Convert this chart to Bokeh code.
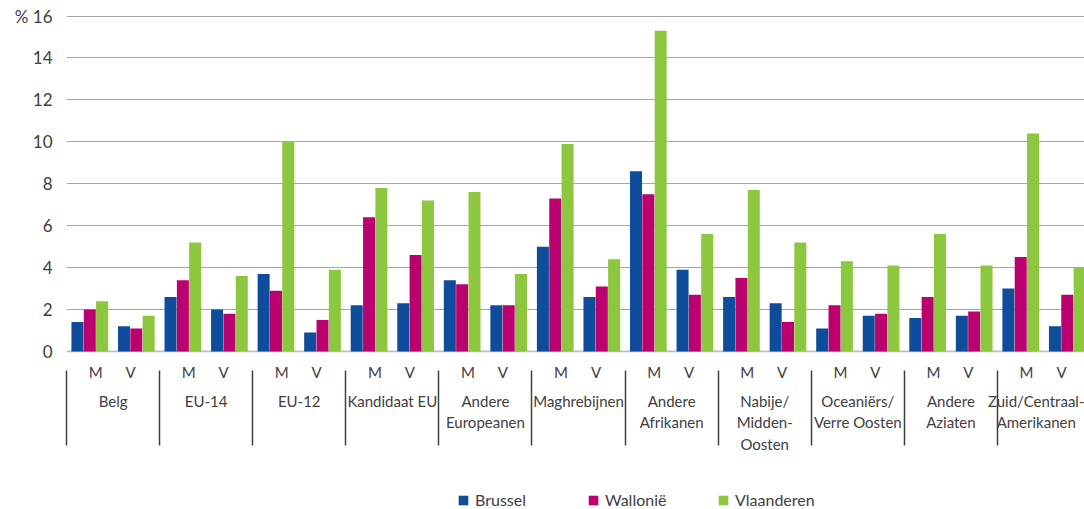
from bokeh.plotting import figure
from bokeh.layouts import column
from bokeh.models import Range1d, FixedTicker, LinearAxis, Legend, LegendItem, Span
from bokeh.embed import file_html
from bokeh.resources import INLINE

# ---------------- data ----------------
categories = ["Belg", "EU-14", "EU-12", "Kandidaat EU", "Andere\nEuropeanen",
              "Maghrebijnen", "Andere\nAfrikanen", "Nabije/\nMidden-\nOosten",
              "Oceaniërs/\nVerre Oosten", "Andere\nAziaten", "Zuid/Centraal-\nAmerikanen"]
subgroups = ["M", "V"]
series_names = ["Brussel", "Wallonië", "Vlaanderen"]

# values per (category, subgroup): M, V, M, V, ...
brussel = [1.4, 1.2, 2.6, 2.0, 3.7, 0.9, 2.2, 2.3, 3.4, 2.2, 5.0, 2.6,
           8.6, 3.9, 2.6, 2.3, 1.1, 1.7, 1.6, 1.7, 3.0, 1.2]
wallonie = [2.0, 1.1, 3.4, 1.8, 2.9, 1.5, 6.4, 4.6, 3.2, 2.2, 7.3, 3.1,
            7.5, 2.7, 3.5, 1.4, 2.2, 1.8, 2.6, 1.9, 4.5, 2.7]
vlaanderen = [2.4, 1.7, 5.2, 3.6, 10.0, 3.9, 7.8, 7.2, 7.6, 3.7, 9.9, 4.4,
              15.3, 5.6, 7.7, 5.2, 4.3, 4.1, 5.6, 4.1, 10.4, 4.0]
y_ticks = [0, 2, 4, 6, 8, 10, 12, 14, 16]
y_unit_label = "% 16"

# ---------------- style ----------------
colors = ["#0F4C9B", "#BB0070", "#8DC63F"]
text_color = "#404040"
font = "Lato"
bar_width = 0.258
bar_pitch = 0.265

n_groups = len(categories)
n_sub = len(subgroups)
x_center = [i + 0.5 for i in range(n_groups * n_sub)]

p = figure(width=1084, height=455,
           x_range=Range1d(0, 21.87), y_range=Range1d(-0.05, 16.12),
           output_backend="svg", toolbar_location=None,
           min_border_left=66, min_border_right=0, min_border_top=13, min_border_bottom=103)
p.outline_line_color = None
p.background_fill_color = "white"
p.border_fill_color = "white"

# grid
p.xgrid.visible = False
p.ygrid.ticker = FixedTicker(ticks=[t for t in y_ticks if t > 0])
p.ygrid.grid_line_color = "#A6A6A6"
p.ygrid.grid_line_width = 1
base = Span(location=0, dimension="width", line_color="#BFBFBF", line_width=2, level="underlay")
p.add_layout(base)

# bars
for j, (vals, col) in enumerate(zip([brussel, wallonie, vlaanderen], colors)):
    off = (j - 1) * bar_pitch
    p.vbar(x=[xc + off for xc in x_center], top=vals, bottom=0, width=bar_width,
           fill_color=col, line_color=None)

# y axis
ya = p.yaxis[0]
ya.ticker = FixedTicker(ticks=y_ticks)
ya.major_label_overrides = {16: y_unit_label}
ya.axis_line_color = None
ya.major_tick_line_color = None
ya.minor_tick_line_color = None
ya.major_tick_out = 0
ya.major_tick_in = 0
ya.major_label_standoff = 14
ya.major_label_text_font = font
ya.major_label_text_font_size = "17px"
ya.major_label_text_color = text_color

# x axis 1: M / V
mv_ticks = []
mv_labels = {}
for g in range(n_groups):
    for s, lab in enumerate(subgroups):
        t = 2 * g + (0.625 if s == 0 else 1.375)
        mv_ticks.append(t)
        mv_labels[t] = lab
xa = p.xaxis[0]
xa.ticker = FixedTicker(ticks=mv_ticks)
xa.major_label_overrides = mv_labels
xa.axis_line_color = None
xa.major_tick_line_color = None
xa.minor_tick_line_color = None
xa.major_tick_out = 0
xa.major_tick_in = 0
xa.minor_tick_out = 0
xa.minor_tick_in = 0
xa.major_label_standoff = 10
xa.major_label_text_font = font
xa.major_label_text_font_size = "15px"
xa.major_label_text_color = text_color

# x axis 2: category names + separators
grp_ticks = [2 * g + 1 for g in range(n_groups)]
sep_ticks = [2 * g for g in range(n_groups + 1)]
xa2 = LinearAxis(ticker=FixedTicker(ticks=grp_ticks, minor_ticks=sep_ticks),
                 major_label_overrides={t: c for t, c in zip(grp_ticks, categories)})
xa2.axis_line_color = None
xa2.major_tick_line_color = None
xa2.major_tick_out = 0
xa2.major_tick_in = 0
xa2.minor_tick_line_color = text_color
xa2.minor_tick_line_width = 1.5
xa2.minor_tick_out = -13
xa2.minor_tick_in = -62
xa2.major_label_standoff = 8
xa2.major_label_text_font = font
xa2.major_label_text_font_size = "15px"
xa2.major_label_text_color = text_color
p.add_layout(xa2, "below")

# legend strip (separate figure, same colours; zero-height swatch renderers)
pl = figure(width=1084, height=54, x_range=Range1d(0, 1), y_range=Range1d(0, 1),
            output_backend="svg", toolbar_location=None,
            min_border_left=0, min_border_right=0, min_border_top=0, min_border_bottom=0)
pl.axis.visible = False
pl.grid.visible = False
pl.outline_line_color = None
leg_renderers = [pl.vbar(x=[0.5], top=[0], bottom=0, width=0.1, fill_color=c, line_color=None)
                 for c in colors]
legend = Legend(items=[LegendItem(label=n, renderers=[r]) for n, r in zip(series_names, leg_renderers)],
                orientation="horizontal", location=(391, 0),
                glyph_width=12, glyph_height=12, label_standoff=6, label_width=112,
                spacing=0, padding=0, margin=0,
                border_line_color=None, background_fill_alpha=0,
                label_text_font=font, label_text_font_size="16px", label_text_color=text_color)
pl.add_layout(legend, "center")

layout = column(p, pl, spacing=0)
open("out.html", "w").write(file_html(layout, INLINE))
